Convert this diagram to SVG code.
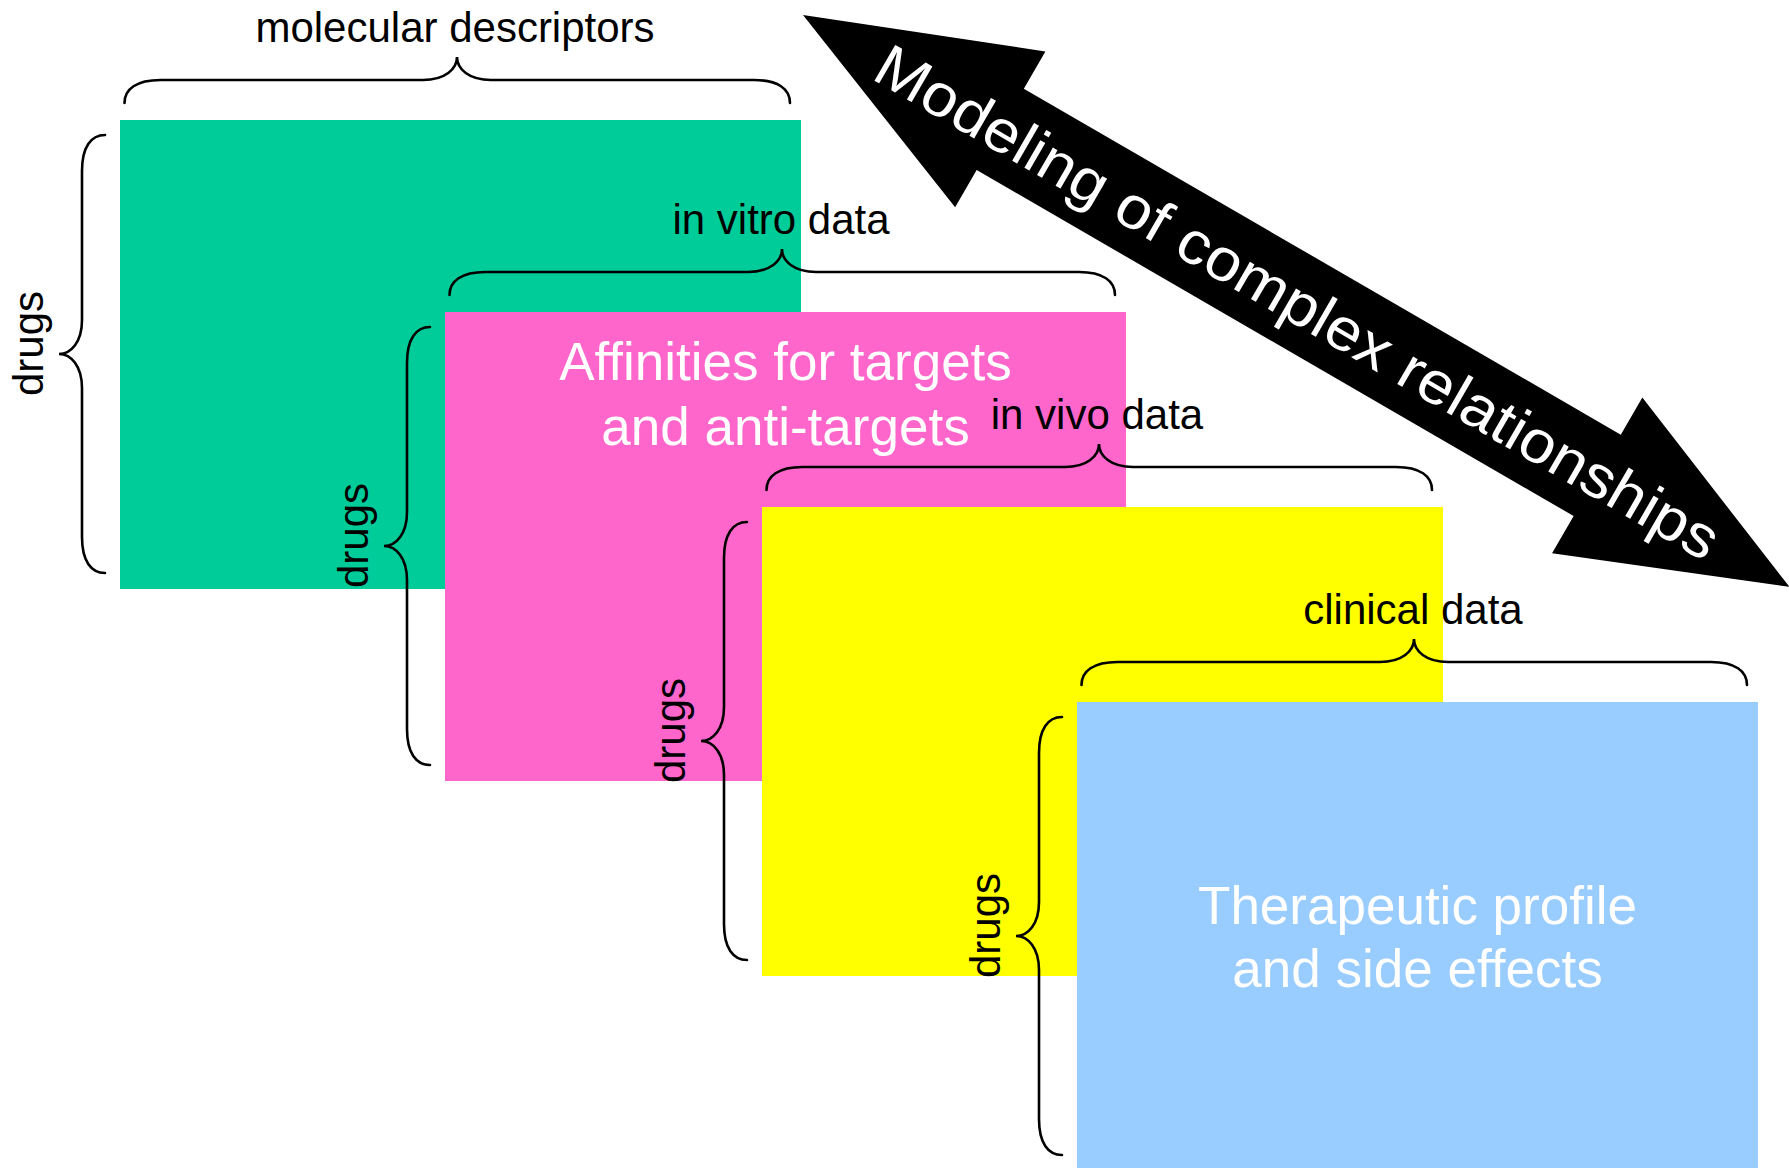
<svg xmlns="http://www.w3.org/2000/svg" width="1789" height="1168" viewBox="0 0 1789 1168">
<style>
.brace{fill:none;stroke:#000;stroke-width:2.6;stroke-linecap:round}
.lbl{font-family:"Liberation Sans",Arial,sans-serif;font-size:42px;fill:#000;text-anchor:middle}
.big{font-family:"Liberation Sans",Arial,sans-serif;font-size:53px;fill:#fff;text-anchor:middle}
.arrowtxt{font-family:"Liberation Sans",Arial,sans-serif;font-size:60px;fill:#fff;text-anchor:middle}
</style>
<rect width="1789" height="1168" fill="#fff"/>
<g id="molecular-descriptors">
<rect x="120" y="120" width="681" height="469" fill="#00CC99"/>
<path class="brace" d="M124.5,103 C124.5,89 136.5,80 160.5,80 L423,80 C445,80 457,69 457,57 C457,69 469,80 491,80 L754,80 C778,80 790,89 790,103"/>
<text class="lbl" x="455" y="42">molecular descriptors</text>
<path class="brace" d="M105,135 C91,135 82,147 82,171 L82,320 C82,342 71,354 59,354 C71,354 82,366 82,388 L82,537 C82,561 91,573 105,573"/>
<text class="lbl" transform="translate(43,343.5) rotate(-90)">drugs</text>
</g>
<g id="in-vitro-data">
<rect x="445" y="312" width="681" height="469" fill="#FF66CC"/>
<path class="brace" d="M449.5,295 C449.5,281 461.5,272 485.5,272 L748,272 C770,272 782,261 782,249 C782,261 794,272 816,272 L1079,272 C1103,272 1115,281 1115,295"/>
<text class="lbl" x="781" y="234">in vitro data</text>
<path class="brace" d="M430,327 C416,327 407,339 407,363 L407,512 C407,534 396,546 384,546 C396,546 407,558 407,580 L407,729 C407,753 416,765 430,765"/>
<text class="lbl" transform="translate(368,535.5) rotate(-90)">drugs</text>
<text class="big" x="785.5" y="380">Affinities for targets</text>
<text class="big" x="785.5" y="445">and anti-targets</text>
</g>
<g id="in-vivo-data">
<rect x="762" y="507" width="681" height="469" fill="#FFFF00"/>
<path class="brace" d="M766.5,490 C766.5,476 778.5,467 802.5,467 L1065,467 C1087,467 1099,456 1099,444 C1099,456 1111,467 1133,467 L1396,467 C1420,467 1432,476 1432,490"/>
<text class="lbl" x="1097" y="429">in vivo data</text>
<path class="brace" d="M747,522 C733,522 724,534 724,558 L724,707 C724,729 713,741 701,741 C713,741 724,753 724,775 L724,924 C724,948 733,960 747,960"/>
<text class="lbl" transform="translate(685,730.5) rotate(-90)">drugs</text>
</g>
<g id="clinical-data">
<rect x="1077" y="702" width="681" height="469" fill="#99CCFF"/>
<path class="brace" d="M1081.5,685 C1081.5,671 1093.5,662 1117.5,662 L1380,662 C1402,662 1414,651 1414,639 C1414,651 1426,662 1448,662 L1711,662 C1735,662 1747,671 1747,685"/>
<text class="lbl" x="1413" y="624">clinical data</text>
<path class="brace" d="M1062,717 C1048,717 1039,729 1039,753 L1039,902 C1039,924 1028,936 1016,936 C1028,936 1039,948 1039,970 L1039,1119 C1039,1143 1048,1155 1062,1155"/>
<text class="lbl" transform="translate(1000,925.5) rotate(-90)">drugs</text>
<text class="big" x="1417.5" y="924">Therapeutic profile</text>
<text class="big" x="1417.5" y="987">and side effects</text>
</g>
<g id="connectors">
<g id="modeling-arrow" transform="translate(803,15) rotate(30.1)">
<polygon points="0,0 228,-90 228,-47 918,-47 918,-90 1140,0 918,90 918,47 228,47 228,90" fill="#000"/>
<text class="arrowtxt" x="572" y="21" textLength="965" lengthAdjust="spacingAndGlyphs">Modeling of complex relationships</text>
</g>
</g>
</svg>
